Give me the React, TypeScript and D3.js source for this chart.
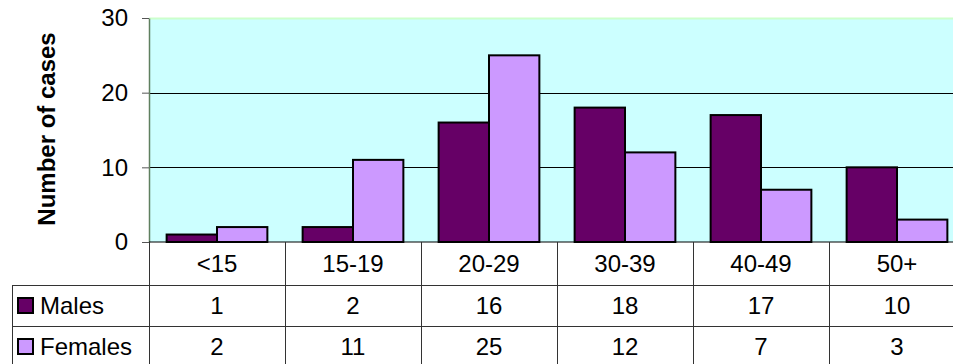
import React, { useEffect, useRef } from 'react';
import * as d3 from 'd3';

const ageGroups = ['<15', '15-19', '20-29', '30-39', '40-49', '50+'];
const males = [1, 2, 16, 18, 17, 10];
const females = [2, 11, 25, 12, 7, 3];
const yTicks = [0, 10, 20, 30];

export default function App() {
  const ref = useRef<SVGSVGElement>(null);

  useEffect(() => {
    const width = 953;
    const height = 364;
    const left = 149; // plot left edge
    const top = 18;
    const bottom = 242;
    const colW = 136;
    const right = left + colW * ageGroups.length;
    const rowH = [43, 41, 41];
    const fontFamily = 'Liberation Sans, Arial, sans-serif';

    const series = [
      { name: 'Males', values: males, color: '#660066' },
      { name: 'Females', values: females, color: '#cc99ff' },
    ];

    const svg = d3.select(ref.current);
    svg.selectAll('*').remove();

    const x = d3.scaleBand<string>().domain(ageGroups).range([left, right]).paddingInner(0).paddingOuter(0);
    const x1 = d3
      .scaleBand<string>()
      .domain(series.map((s) => s.name))
      .range([0, colW])
      .paddingOuter(0.35)
      .paddingInner(0);
    const y = d3.scaleLinear().domain([0, 30]).range([bottom, top]);

    // plot background
    svg
      .append('rect')
      .attr('x', left)
      .attr('y', top)
      .attr('width', right - left)
      .attr('height', bottom - top)
      .attr('fill', '#ccffff');
    svg
      .append('line')
      .attr('x1', left)
      .attr('x2', right)
      .attr('y1', top + 0.5)
      .attr('y2', top + 0.5)
      .attr('stroke', '#ccffcc')
      .attr('stroke-width', 2);

    // gridlines
    svg
      .append('g')
      .selectAll('line')
      .data(yTicks.filter((t) => t > 0 && t < 30))
      .join('line')
      .attr('x1', left)
      .attr('x2', right)
      .attr('y1', (d) => Math.round(y(d)) + 0.5)
      .attr('y2', (d) => Math.round(y(d)) + 0.5)
      .attr('stroke', '#000');

    // bars
    series.forEach((s) => {
      svg
        .append('g')
        .selectAll('rect')
        .data(s.values)
        .join('rect')
        .attr('x', (d, i) => x(ageGroups[i])! + x1(s.name)!)
        .attr('y', (d) => y(d))
        .attr('width', x1.bandwidth())
        .attr('height', (d) => bottom - y(d))
        .attr('fill', s.color)
        .attr('stroke', '#000')
        .attr('stroke-width', 2);
    });

    // y axis
    const yAxis = d3.axisLeft(y).tickValues(yTicks).tickSize(7).tickPadding(14).tickSizeOuter(0);
    svg
      .append('g')
      .attr('transform', `translate(${left},0)`)
      .call(yAxis)
      .call((g) => g.select('.domain').attr('stroke', '#5f7f5f').attr('stroke-width', 1.5))
      .call((g) => g.selectAll('.tick line').attr('stroke', '#555'))
      .call((g) =>
        g
          .selectAll('.tick text')
          .attr('font-family', fontFamily)
          .attr('font-size', 24)
          .attr('fill', '#000')
      );

    svg
      .append('text')
      .attr('transform', `translate(55,129) rotate(-90)`)
      .attr('text-anchor', 'middle')
      .attr('font-family', fontFamily)
      .attr('font-weight', 'bold')
      .attr('font-size', 24)
      .text('Number of cases');

    // data table
    const table = svg.append('g').attr('stroke', '#333').attr('stroke-width', 1);
    const tableLeft = 12;
    const r1 = bottom + rowH[0];
    const r2 = r1 + rowH[1];
    const r3 = r2 + rowH[2];
    table.append('line').attr('x1', left).attr('x2', right).attr('y1', bottom).attr('y2', bottom).attr('stroke', '#000');
    [r1, r2, r3].forEach((ry) => {
      table
        .append('line')
        .attr('x1', tableLeft)
        .attr('x2', right)
        .attr('y1', ry + 0.5)
        .attr('y2', ry + 0.5);
    });
    table.append('line').attr('x1', tableLeft + 0.5).attr('x2', tableLeft + 0.5).attr('y1', r1).attr('y2', r3);
    table
      .selectAll('line.col')
      .data(d3.range(ageGroups.length + 1))
      .join('line')
      .attr('class', 'col')
      .attr('x1', (i) => left + i * colW + 0.5)
      .attr('x2', (i) => left + i * colW + 0.5)
      .attr('y1', bottom)
      .attr('y2', r3);

    const font = (sel: any) => sel.attr('font-family', fontFamily).attr('font-size', 24).attr('fill', '#000');

    svg
      .append('g')
      .selectAll('text')
      .data(ageGroups)
      .join('text')
      .attr('x', (d) => x(d)! + colW / 2)
      .attr('y', bottom + rowH[0] / 2)
      .attr('dy', '0.35em')
      .attr('text-anchor', 'middle')
      .call(font)
      .text((d) => d);

    series.forEach((s, si) => {
      const rowTop = si === 0 ? r1 : r2;
      const cy = rowTop + rowH[si + 1] / 2;
      svg
        .append('rect')
        .attr('x', 18)
        .attr('y', cy - 7.5)
        .attr('width', 15)
        .attr('height', 15)
        .attr('fill', s.color)
        .attr('stroke', '#000')
        .attr('stroke-width', 2);
      svg
        .append('text')
        .attr('x', 40)
        .attr('y', cy)
        .attr('dy', '0.35em')
        .call(font)
        .text(s.name);
      svg
        .append('g')
        .selectAll('text')
        .data(s.values)
        .join('text')
        .attr('x', (d, i) => x(ageGroups[i])! + colW / 2)
        .attr('y', cy)
        .attr('dy', '0.35em')
        .attr('text-anchor', 'middle')
        .call(font)
        .text((d) => d);
    });

    svg.attr('width', width).attr('height', height);
  }, []);

  return (
    <svg
      ref={ref}
      width={953}
      height={364}
      style={{ position: 'absolute', left: 0, top: 0, background: '#fff' }}
    />
  );
}
